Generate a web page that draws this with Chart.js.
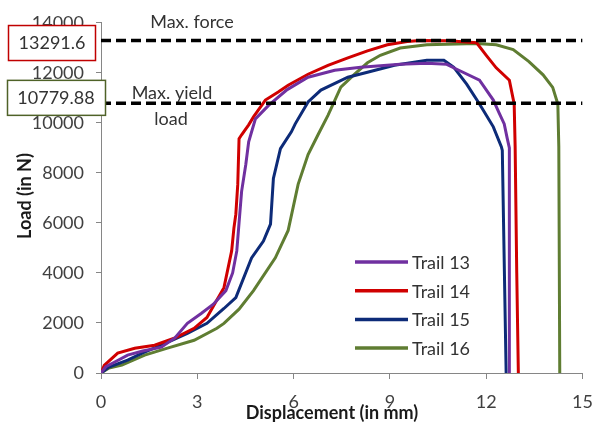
<!DOCTYPE html>
<html>
<head>
<meta charset="utf-8">
<script src="https://cdn.jsdelivr.net/npm/chart.js@4.4.1/dist/chart.umd.min.js"></script>
<style>
  html, body { margin: 0; padding: 0; background: #fff; }
  #wrap { width: 605px; height: 425px; position: relative; }
</style>
</head>
<body>
<div id="wrap"><canvas id="loadChart"></canvas></div>
<script>
// Load / displacement curves for the four trails (displacement in mm, load in N)
const trail13Disp = [0, 0.15, 0.4, 0.83, 1.3, 1.88, 2.3, 2.69, 3.12, 3.5, 3.89, 4.1, 4.23, 4.3, 4.38, 4.51, 4.6, 4.81, 5.22, 5.8, 6.45, 7.28, 8.09, 9.32, 10.15, 10.77, 11.08, 11.79, 12.22, 12.4, 12.56, 12.65, 12.72, 12.72, 12.72];
const trail13Load = [0, 250, 420, 714, 880, 1032, 1400, 1984, 2381, 2750, 3294, 4000, 4881, 6000, 7262, 8333, 9246, 10159, 10700, 11330, 11825, 12103, 12222, 12341, 12380, 12341, 12143, 11706, 10913, 10400, 9960, 9400, 9000, 4000, 0];

// trail 14 gives the maximum force
const trail14Disp = [0, 0.1, 0.28, 0.52, 1.05, 1.67, 2.28, 2.9, 3.3, 3.6, 3.83, 4.07, 4.14, 4.2, 4.26, 4.3, 4.38, 4.6, 4.75, 5.12, 5.52, 5.83, 6.45, 7.07, 7.69, 8.3, 8.92, 9.54, 9.94, 10.8, 11.7, 12.0, 12.31, 12.72, 12.87, 12.9, 12.95, 13.0];
const trail14Load = [0, 300, 516, 794, 992, 1111, 1389, 1786, 2222, 2897, 3413, 4881, 5793, 6349, 7540, 9365, 9524, 9921, 10238, 10913, 11230, 11507, 11944, 12301, 12600, 12880, 13120, 13250, 13291.6, 13285, 13200, 12700, 12200, 11706, 10754, 9047, 4000, 0];

const trail15Disp = [0, 0.25, 0.83, 1.3, 1.88, 2.69, 3.3, 3.83, 4.2, 4.69, 5.06, 5.28, 5.37, 5.59, 5.93, 6.05, 6.45, 6.85, 7.69, 8.3, 9.14, 10.15, 10.68, 10.99, 11.39, 11.79, 12.22, 12.47, 12.5, 12.62];
const trail15Load = [0, 238, 516, 800, 1111, 1587, 1984, 2579, 3016, 4603, 5277, 5952, 7778, 8968, 9643, 9960, 10833, 11309, 11825, 12023, 12301, 12499, 12499, 12222, 11547, 10754, 9841, 9047, 8900, 0];

const trail16Disp = [0, 0.25, 0.65, 1.36, 2.07, 2.9, 3.61, 3.83, 4.3, 4.75, 5.43, 5.83, 6.14, 6.45, 6.76, 7.07, 7.47, 7.9, 8.3, 8.7, 9.32, 10.15, 11.7, 12.31, 12.84, 13.33, 13.77, 14.07, 14.23, 14.26, 14.29];
const trail16Load = [0, 200, 317, 714, 992, 1309, 1786, 1984, 2550, 3294, 4603, 5700, 7540, 8730, 9524, 10300, 11428, 11944, 12400, 12700, 12990, 13120, 13170, 13120, 12930, 12450, 11920, 11420, 10754, 9047, 0];

const trailNames = ['Trail 13', 'Trail 14', 'Trail 15', 'Trail 16'];
const trailColors = ['#7030a0', '#d00000', '#0d2b78', '#5f7d32'];

// reference levels
const maxForce = 13291.6;
const maxYieldLoad = 10779.88;

const xTicks = [0, 3, 6, 9, 12, 15];
const yTicks = [0, 2000, 4000, 6000, 8000, 10000, 12000, 14000];

const FONT = 'Lato, "Open Sans", sans-serif';

function toPoints(xs, ys) {
    return xs.map((x, i) => ({ x: x, y: ys[i] }));
}

const trailSeries = [
    toPoints(trail13Disp, trail13Load),
    toPoints(trail14Disp, trail14Load),
    toPoints(trail15Disp, trail15Load),
    toPoints(trail16Disp, trail16Load)
];

const datasets = [];

// horizontal dashed levels, drawn over the curves
[maxForce, maxYieldLoad].forEach(level => {
    datasets.push({
        label: 'level',
        data: [{ x: xTicks[0], y: level }, { x: xTicks[xTicks.length - 1], y: level }],
        borderColor: '#000',
        borderWidth: 3.5,
        borderDash: [10, 5],
        showLine: true,
        pointRadius: 0,
        order: 0
    });
});

trailSeries.forEach((pts, i) => {
    datasets.push({
        label: trailNames[i],
        data: pts,
        borderColor: trailColors[i],
        backgroundColor: trailColors[i],
        borderWidth: 3,
        showLine: true,
        pointRadius: 0,
        tension: 0,
        order: 1
    });
});

// text, boxes and legend
const annotations = {
    id: 'annotations',
    afterDraw(chart) {
        const ctx = chart.ctx;
        const y = chart.scales.y;
        const forceY = y.getPixelForValue(maxForce);
        const yieldY = y.getPixelForValue(maxYieldLoad);

        ctx.save();
        ctx.textAlign = 'center';
        ctx.textBaseline = 'middle';
        ctx.font = '18px ' + FONT;
        ctx.fillStyle = '#333';

        ctx.fillText('Max. force', 192, forceY - 18);
        ctx.fillText('Max. yield', 172, yieldY - 10);
        ctx.fillText('load', 171, yieldY + 16);

        // value boxes
        ctx.lineWidth = 1.5;
        ctx.strokeStyle = '#c00000';
        ctx.fillStyle = '#fff';
        ctx.fillRect(8, forceY - 15, 87, 35);
        ctx.strokeRect(8.5, forceY - 15, 87, 35);
        ctx.fillStyle = '#333';
        ctx.fillText(String(maxForce), 52, forceY + 3);

        ctx.strokeStyle = '#4f6228';
        ctx.fillStyle = '#fff';
        ctx.fillRect(7, yieldY - 23, 98, 35);
        ctx.strokeRect(7.5, yieldY - 23, 98, 35);
        ctx.fillStyle = '#333';
        ctx.fillText(String(maxYieldLoad), 56, yieldY - 5);

        // axis titles
        ctx.font = 'bold 18px ' + FONT;
        ctx.fillStyle = '#1a1a1a';
        ctx.fillText('Displacement (in mm)', 332, 413);
        ctx.translate(25, 196);
        ctx.rotate(-Math.PI / 2);
        ctx.fillText('Load (in N)', 0, 0);
        ctx.restore();

        // legend inside the plot
        ctx.save();
        ctx.font = '18px ' + FONT;
        ctx.textAlign = 'left';
        ctx.textBaseline = 'middle';
        trailNames.forEach((name, i) => {
            const ly = 262 + i * 28.7;
            ctx.strokeStyle = trailColors[i];
            ctx.lineWidth = 3.5;
            ctx.beginPath();
            ctx.moveTo(355, ly);
            ctx.lineTo(408, ly);
            ctx.stroke();
            ctx.fillStyle = '#333';
            ctx.fillText(name, 412, ly + 1);
        });
        ctx.restore();
    }
};

new Chart(document.getElementById('loadChart'), {
    type: 'scatter',
    data: { datasets: datasets },
    options: {
        responsive: true,
        maintainAspectRatio: false,
        animation: false,
        layout: { padding: { top: 20, right: 18, left: 0, bottom: 0 } },
        plugins: {
            legend: { display: false },
            tooltip: { enabled: false }
        },
        scales: {
            x: {
                type: 'linear',
                min: 0,
                max: 15,
                afterBuildTicks: axis => { axis.ticks = xTicks.map(v => ({ value: v })); },
                afterFit: axis => { axis.height = 52; },
                ticks: {
                    color: '#404040',
                    font: { family: FONT, size: 18 },
                    padding: 12,
                    maxRotation: 0,
                    callback: v => String(v)
                },
                grid: { drawOnChartArea: false, tickLength: 6, color: '#868686' },
                border: { color: '#868686', width: 1 }
            },
            y: {
                min: 0,
                max: 14000,
                afterBuildTicks: axis => { axis.ticks = yTicks.map(v => ({ value: v })); },
                afterFit: axis => { axis.width = 101; },
                ticks: {
                    color: '#404040',
                    font: { family: FONT, size: 18 },
                    padding: 12,
                    callback: v => String(v)
                },
                grid: { drawOnChartArea: false, tickLength: 5, color: '#868686' },
                border: { color: '#868686', width: 1 }
            }
        }
    },
    plugins: [annotations]
});
</script>
</body>
</html>
